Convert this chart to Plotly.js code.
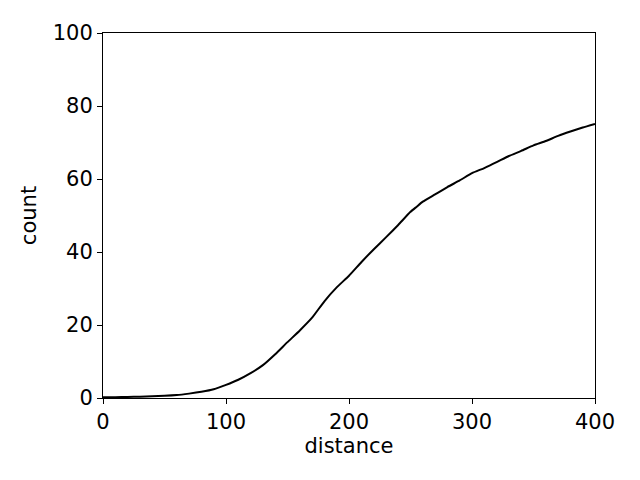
<!DOCTYPE html>
<html>
<head>
<meta charset="utf-8">
<script src="https://cdn.plot.ly/plotly-3.0.1.min.js"></script>
<style>body{margin:0;} #plot{width:640px;height:480px;}</style>
</head>
<body>
<div id="plot"></div>
<script>
// distance values and cumulative count
let distance = [0, 10, 20, 30, 40, 50, 60, 70, 80, 90, 100, 110, 120, 130, 140, 150,
  160, 170, 180, 190, 200, 210, 220, 230, 240, 250, 255, 260, 270, 280, 290, 300,
  310, 320, 330, 340, 350, 360, 370, 380, 390, 400];
let count = [0.2, 0.2, 0.3, 0.35, 0.5, 0.6, 0.8, 1.2, 1.7, 2.4, 3.6, 5, 6.8, 9, 12, 15.3,
  18.5, 22, 26.5, 30.3, 33.5, 37.2, 40.7, 44, 47.4, 51, 52.4, 53.8, 55.8, 57.8, 59.6, 61.6,
  63, 64.6, 66.3, 67.7, 69.2, 70.4, 71.8, 73, 74.1, 75.1];

let trace = {
  x: distance,
  y: count,
  type: "scatter",
  mode: "lines",
  line: {color: "black", width: 2, shape: "spline", smoothing: 0.5}
};

let axisStyle = {
  showgrid: false,
  zeroline: false,
  showline: true,
  mirror: true,
  linecolor: "black",
  linewidth: 1,
  ticks: "outside",
  ticklen: 5,
  tickcolor: "black",
  tickfont: {size: 21, color: "black"}
};

let layout = {
  width: 640,
  height: 480,
  margin: {l: 103, r: 45, t: 33, b: 82},
  font: {family: "DejaVu Sans", color: "black"},
  paper_bgcolor: "white",
  plot_bgcolor: "white",
  showlegend: false,
  xaxis: Object.assign({}, axisStyle, {
    range: [0, 400],
    tickvals: [0, 100, 200, 300, 400],
    title: {text: "distance", font: {size: 21}, standoff: 1}
  }),
  yaxis: Object.assign({}, axisStyle, {
    range: [0, 100],
    tickvals: [0, 20, 40, 60, 80, 100],
    title: {text: "count", font: {size: 21}, standoff: 10}
  })
};

Plotly.newPlot("plot", [trace], layout, {staticPlot: true});
</script>
</body>
</html>
